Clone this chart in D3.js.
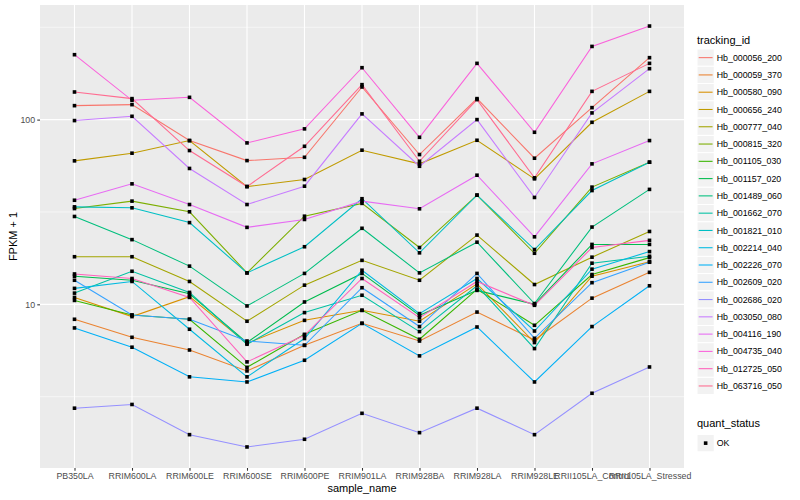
<!DOCTYPE html>
<html>
<head>
<meta charset="utf-8">
<script src="https://cdn.jsdelivr.net/npm/d3@7"></script>
<style>
  body { margin: 0; background: #fff; }
  text { font-family: "Liberation Sans", Arial, sans-serif; }
</style>
</head>
<body>
<svg id="chart" width="800" height="500"></svg>
<script>
// categories on the x axis
const samples = ["PB350LA", "RRIM600LA", "RRIM600LE", "RRIM600SE", "RRIM600PE", "RRIM901LA",
  "RRIM928BA", "RRIM928LA", "RRIM928LE", "RRII105LA_Control", "RRII105LA_Stressed"];

const trackingIds = ["Hb_000056_200", "Hb_000059_370", "Hb_000580_090", "Hb_000656_240", "Hb_000777_040",
  "Hb_000815_320", "Hb_001105_030", "Hb_001157_020", "Hb_001489_060", "Hb_001662_070",
  "Hb_001821_010", "Hb_002214_040", "Hb_002226_070", "Hb_002609_020", "Hb_002686_020",
  "Hb_003050_080", "Hb_004116_190", "Hb_004735_040", "Hb_012725_050", "Hb_063716_050"];

// FPKM + 1 per sample
const hb_000056_200 = [119.0, 120.5, 77.0, 60.0, 62.5, 150.2, 64.7, 129.9, 61.8, 116.1, 216.4];
const hb_000059_370 = [8.30, 6.63, 5.66, 4.36, 6.00, 7.89, 6.33, 9.08, 6.41, 10.8, 14.9];
const hb_000580_090 = [10.9, 8.58, 11.0, 6.15, 8.19, 9.28, 8.10, 12.9, 6.21, 14.2, 17.0];
const hb_000656_240 = [59.8, 65.8, 77.0, 43.4, 47.4, 68.3, 57.6, 77.3, 47.8, 96.7, 142.2];
const hb_000777_040 = [18.1, 18.1, 13.3, 8.1, 12.7, 17.3, 13.5, 23.7, 12.8, 18.0, 24.8];
const hb_000815_320 = [33.0, 36.2, 31.7, 14.8, 30.0, 35.2, 20.3, 39.0, 18.9, 43.1, 58.8];
const hb_001105_030 = [10.5, 8.75, 8.30, 4.56, 6.88, 9.28, 6.47, 12.05, 7.70, 14.5, 17.9];
const hb_001157_020 = [14.2, 13.5, 11.4, 6.21, 10.3, 14.7, 8.72, 11.9, 10.0, 21.1, 21.1];
const hb_001489_060 = [29.9, 22.4, 16.1, 9.8, 14.7, 25.8, 14.8, 21.7, 10.1, 26.2, 41.9];
const hb_001662_070 = [11.5, 15.1, 11.6, 6.08, 9.02, 11.2, 7.12, 12.6, 5.76, 16.7, 18.2];
const hb_001821_010 = [33.7, 33.3, 27.7, 14.8, 20.5, 37.3, 19.0, 39.0, 19.8, 41.3, 58.8];
const hb_002214_040 = [12.2, 13.3, 7.33, 4.05, 6.53, 15.3, 8.91, 13.8, 7.17, 15.5, 19.3];
const hb_002226_070 = [7.45, 5.86, 4.05, 3.80, 4.98, 7.89, 5.26, 7.54, 3.80, 7.58, 12.6];
const hb_002609_020 = [13.5, 8.75, 8.30, 6.33, 6.00, 12.3, 7.58, 14.7, 6.55, 13.1, 16.9];
const hb_002686_020 = [2.74, 2.87, 1.97, 1.69, 1.86, 2.57, 2.02, 2.74, 1.97, 3.30, 4.58];
const hb_003050_080 = [98.8, 104.2, 54.4, 34.7, 43.6, 107.4, 55.9, 100.0, 37.9, 108.7, 188.7];
const hb_004116_190 = [36.6, 44.9, 34.7, 26.1, 28.8, 36.2, 32.9, 50.0, 23.2, 57.6, 77.0];
const hb_004735_040 = [224.6, 127.2, 132.0, 74.8, 89.1, 191.0, 80.2, 201.6, 85.4, 249.0, 321.0];
const hb_012725_050 = [14.6, 13.8, 10.9, 4.88, 6.80, 13.8, 8.47, 13.3, 9.88, 20.3, 22.2];
const hb_063716_050 = [141.1, 129.9, 68.0, 43.4, 71.7, 154.6, 59.5, 128.3, 48.4, 142.2, 201.6];

const quantStatus = ["OK"];
const yTicks = [10, 100];

// ggplot default hue palette, 20 levels
const palette = ["#F8766D", "#EA8331", "#D89000", "#C09B00", "#A3A500", "#7CAE00", "#39B600", "#00BB4E",
  "#00BF7D", "#00C1A3", "#00BFC4", "#00BAE0", "#00B0F6", "#35A2FF", "#9590FF", "#C77CFF",
  "#E76BF3", "#FA62DB", "#FF62BC", "#FF6C91"];

const seriesValues = [hb_000056_200, hb_000059_370, hb_000580_090, hb_000656_240, hb_000777_040,
  hb_000815_320, hb_001105_030, hb_001157_020, hb_001489_060, hb_001662_070,
  hb_001821_010, hb_002214_040, hb_002226_070, hb_002609_020, hb_002686_020,
  hb_003050_080, hb_004116_190, hb_004735_040, hb_012725_050, hb_063716_050];

const series = trackingIds.map(function (id, i) {
  return { id: id, values: seriesValues[i].map(function (v, j) { return { sample: samples[j], value: v }; }) };
});

const panel = { left: 40, right: 684, top: 5, bottom: 468 };
const svg = d3.select("#chart");

const x = d3.scalePoint().domain(samples).range([panel.left, panel.right]).padding(0.6);

// log extent expanded by 5% like ggplot
var allVals = d3.merge(seriesValues);
var lo = Math.log10(d3.min(allVals)), hi = Math.log10(d3.max(allVals));
var pad = (hi - lo) * 0.05;
const y = d3.scaleLog().domain([Math.pow(10, lo - pad), Math.pow(10, hi + pad)]).range([panel.bottom, panel.top]);
const color = d3.scaleOrdinal().domain(trackingIds).range(palette);

// panel background
svg.append("rect")
  .attr("x", panel.left).attr("y", panel.top)
  .attr("width", panel.right - panel.left).attr("height", panel.bottom - panel.top)
  .attr("fill", "#EBEBEB");

// minor grid: half decades
var minor = [];
for (var e = Math.floor(lo - pad); e <= Math.ceil(hi + pad); e++) {
  var m = Math.pow(10, e + 0.5);
  if (m > y.domain()[0] && m < y.domain()[1]) minor.push(m);
}
svg.append("g").selectAll("line").data(minor).join("line")
  .attr("x1", panel.left).attr("x2", panel.right)
  .attr("y1", d => y(d)).attr("y2", d => y(d))
  .attr("stroke", "#fff").attr("stroke-width", 0.55);

svg.append("g").selectAll("line").data(yTicks).join("line")
  .attr("x1", panel.left).attr("x2", panel.right)
  .attr("y1", d => y(d)).attr("y2", d => y(d))
  .attr("stroke", "#fff").attr("stroke-width", 1.1);

svg.append("g").selectAll("line").data(samples).join("line")
  .attr("x1", d => x(d)).attr("x2", d => x(d))
  .attr("y1", panel.top).attr("y2", panel.bottom)
  .attr("stroke", "#fff").attr("stroke-width", 1.1);

// lines
const line = d3.line().x(d => x(d.sample)).y(d => y(d.value));
svg.append("g").selectAll("path").data(series).join("path")
  .attr("d", d => line(d.values))
  .attr("fill", "none")
  .attr("stroke", d => color(d.id))
  .attr("stroke-width", 1.07);

// points
var pts = d3.merge(series.map(s => s.values));
svg.append("g").selectAll("rect").data(pts).join("rect")
  .attr("x", d => x(d.sample) - 1.8).attr("y", d => y(d.value) - 1.8)
  .attr("width", 3.6).attr("height", 3.6)
  .attr("fill", "#000");

// axes
const xAxis = d3.axisBottom(x).tickSize(2.74).tickPadding(2.5);
const gx = svg.append("g").attr("transform", "translate(0," + panel.bottom + ")").call(xAxis);
const yAxis = d3.axisLeft(y).tickValues(yTicks).tickFormat(d3.format("d")).tickSize(2.74).tickPadding(2.2);
const gy = svg.append("g").attr("transform", "translate(" + panel.left + ",0)").call(yAxis);
[gx, gy].forEach(function (g) {
  g.select(".domain").remove();
  g.selectAll(".tick line").attr("stroke", "#333").attr("stroke-width", 1.07);
  g.selectAll(".tick text").attr("fill", "#4D4D4D").style("font-size", "8.8px")
    .style("font-family", "'Liberation Sans', Arial, sans-serif");
});

svg.append("text")
  .attr("x", (panel.left + panel.right) / 2).attr("y", 492)
  .attr("text-anchor", "middle").style("font-size", "11px").attr("fill", "#000")
  .text("sample_name");

svg.append("text")
  .attr("transform", "translate(17," + ((panel.top + panel.bottom) / 2) + ") rotate(-90)")
  .attr("text-anchor", "middle").style("font-size", "11px").attr("fill", "#000")
  .text("FPKM + 1");

// legend: tracking_id
const keySize = 17.28;
const legX = 697;
const leg = svg.append("g");
leg.append("text").attr("x", legX).attr("y", 44)
  .style("font-size", "11px").attr("fill", "#000").text("tracking_id");

const keys = leg.selectAll("g.key").data(trackingIds).join("g")
  .attr("class", "key")
  .attr("transform", (d, i) => "translate(" + legX + "," + (49 + i * keySize) + ")");
keys.append("rect").attr("width", keySize).attr("height", keySize)
  .attr("fill", "#F2F2F2").attr("stroke", "#fff").attr("stroke-width", 1);
keys.append("line")
  .attr("x1", 1.7).attr("x2", keySize - 1.7)
  .attr("y1", keySize / 2).attr("y2", keySize / 2)
  .attr("stroke", d => color(d)).attr("stroke-width", 1.07);
keys.append("text").attr("x", keySize + 2.5).attr("y", keySize / 2).attr("dy", "0.35em")
  .style("font-size", "8.8px").attr("fill", "#000").text(d => d);

// legend: quant_status
const leg2 = svg.append("g");
leg2.append("text").attr("x", legX).attr("y", 427)
  .style("font-size", "11px").attr("fill", "#000").text("quant_status");
const keys2 = leg2.selectAll("g.key").data(quantStatus).join("g")
  .attr("class", "key")
  .attr("transform", (d, i) => "translate(" + legX + "," + (434.5 + i * keySize) + ")");
keys2.append("rect").attr("width", keySize).attr("height", keySize)
  .attr("fill", "#F2F2F2").attr("stroke", "#fff").attr("stroke-width", 1);
keys2.append("rect").attr("x", keySize / 2 - 1.8).attr("y", keySize / 2 - 1.8)
  .attr("width", 3.6).attr("height", 3.6).attr("fill", "#000");
keys2.append("text").attr("x", keySize + 2.5).attr("y", keySize / 2).attr("dy", "0.35em")
  .style("font-size", "8.8px").attr("fill", "#000").text(d => d);
</script>
</body>
</html>
